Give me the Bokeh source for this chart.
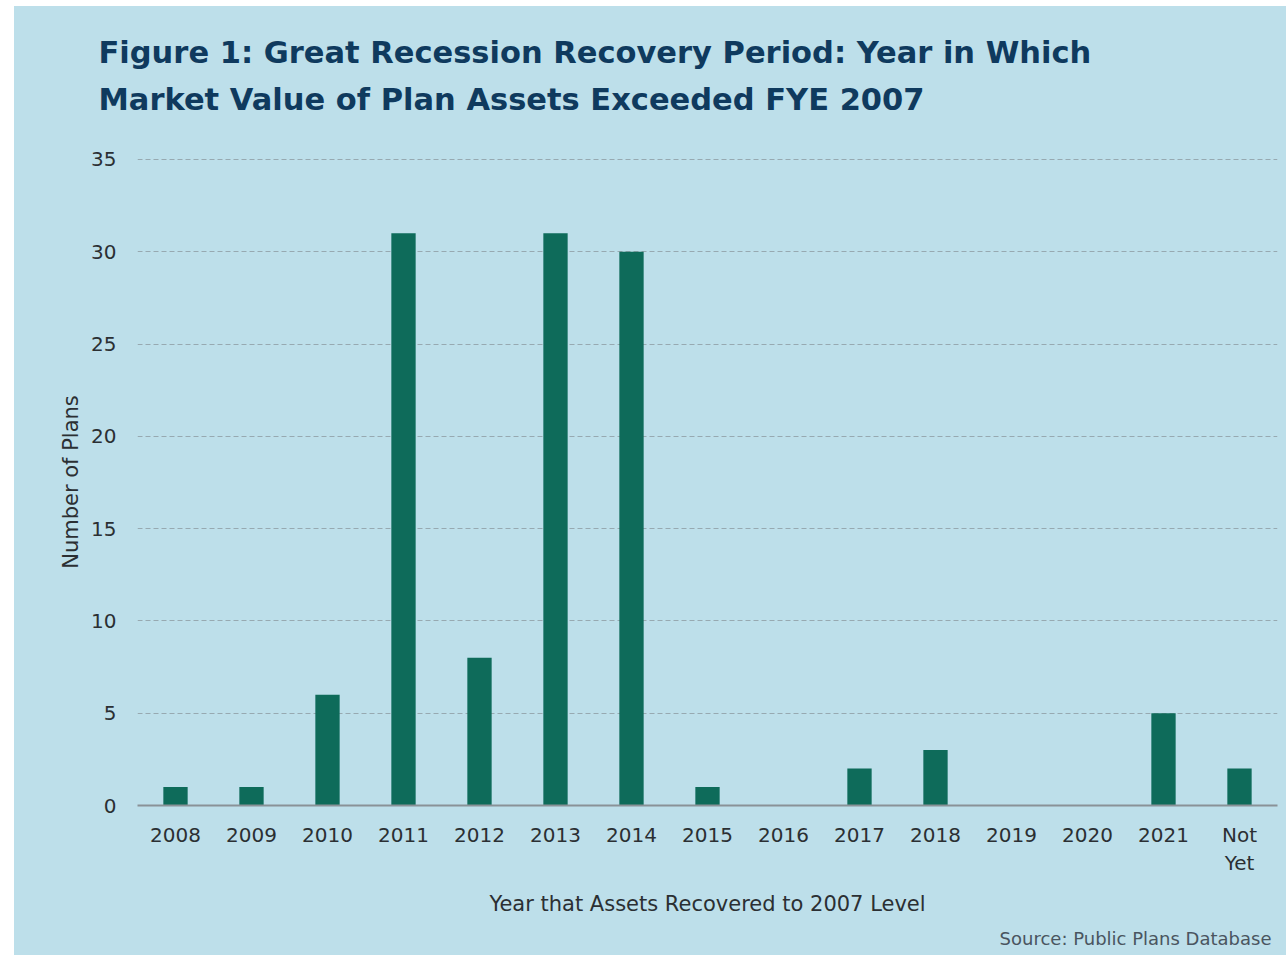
from bokeh.plotting import figure
from bokeh.models import Title, Spacer, FixedTicker, ColumnDataSource, Range1d
from bokeh.core.properties import value
from bokeh.layouts import column, row
from bokeh.embed import file_html
from bokeh.resources import INLINE

years = ["2008", "2009", "2010", "2011", "2012", "2013", "2014", "2015",
         "2016", "2017", "2018", "2019", "2020", "2021", "Not\nYet"]
plans = [1, 1, 6, 31, 8, 31, 30, 1, 0, 2, 3, 0, 0, 5, 2]
y_ticks = [0, 5, 10, 15, 20, 25, 30, 35]

title_1 = "Figure 1: Great Recession Recovery Period:  Year in Which"
title_2 = "Market Value of Plan Assets Exceeded FYE 2007"
x_label = "Year that Assets Recovered to 2007 Level"
y_label = "Number of Plans"
source_note = "Source: Public Plans Database"

BG = "#bddfea"
BAR = "#0e6b5a"
NAVY = "#0f3a5e"
TXT = "#2b2f33"
FONT = "DejaVu Sans"

W = 1272
HEAD_H = 140

# ---- heading strip (title lines as SVG text) ----
head = figure(width=W, height=HEAD_H, x_range=Range1d(0, W), y_range=Range1d(0, HEAD_H),
              output_backend="svg", toolbar_location=None,
              x_axis_location=None, y_axis_location=None,
              min_border=0, styles={"background-color": BG})
head.title = None
head.background_fill_color = None
head.border_fill_color = None
head.outline_line_color = None
head.xgrid.visible = False
head.ygrid.visible = False
if "frame_align" in head.properties():
    head.frame_align = False
head.text(x=[84, 84], y=[94, 47], text=[title_1, title_2],
          text_font=value(FONT), text_font_size="30.5px", text_font_style="bold",
          text_color=NAVY, text_baseline="middle", text_align="left")

# ---- main chart ----
src = ColumnDataSource(dict(year=years, plans=plans))

p = figure(x_range=years, y_range=Range1d(0, 35.05), width=W, height=949 - HEAD_H,
           output_backend="svg", toolbar_location=None,
           min_border_left=123, min_border_right=9,
           min_border_top=12, min_border_bottom=150,
           styles={"background-color": BG})
p.title = None
p.background_fill_color = None
p.border_fill_color = None
p.outline_line_color = None
if "frame_align" in p.properties():
    p.frame_align = False

p.vbar(x="year", top="plans", width=0.32, source=src, color=BAR, line_color=None)

src_t = Title(text=source_note, text_font=FONT, text_font_size="18px",
              text_font_style="normal", text_color="#4a5560", align="right",
              offset=6, standoff=13)
p.add_layout(src_t, "below")

p.yaxis.ticker = FixedTicker(ticks=y_ticks)
p.yaxis.axis_line_color = None
p.yaxis.major_tick_line_color = None
p.yaxis.minor_tick_line_color = None
p.yaxis.major_label_text_font = FONT
p.yaxis.major_label_text_font_size = "20px"
p.yaxis.major_label_text_color = TXT
p.yaxis.major_label_standoff = 15
p.yaxis.axis_label = y_label
p.yaxis.axis_label_text_font = FONT
p.yaxis.axis_label_text_font_size = "21px"
p.yaxis.axis_label_text_font_style = "normal"
p.yaxis.axis_label_text_color = TXT
p.yaxis.axis_label_standoff = 5

p.xaxis.axis_line_color = "#8a9297"
p.xaxis.axis_line_width = 2
p.xaxis.major_tick_line_color = None
p.xaxis.minor_tick_line_color = None
p.xaxis.major_label_text_font = FONT
p.xaxis.major_label_text_font_size = "20px"
p.xaxis.major_label_text_color = TXT
p.xaxis.major_label_standoff = 11
p.xaxis.axis_label = x_label
p.xaxis.axis_label_text_font = FONT
p.xaxis.axis_label_text_font_size = "21px"
p.xaxis.axis_label_text_font_style = "normal"
p.xaxis.axis_label_text_color = TXT
p.xaxis.axis_label_standoff = 14

p.xgrid.grid_line_color = None
p.ygrid.grid_line_color = "#97a9b1"
p.ygrid.grid_line_dash = "5 3"
p.ygrid.grid_line_width = 1

layout = column(Spacer(height=6), row(Spacer(width=14), column(head, p, spacing=0), spacing=0),
                spacing=0)

open("out.html", "w").write(file_html(layout, INLINE))
